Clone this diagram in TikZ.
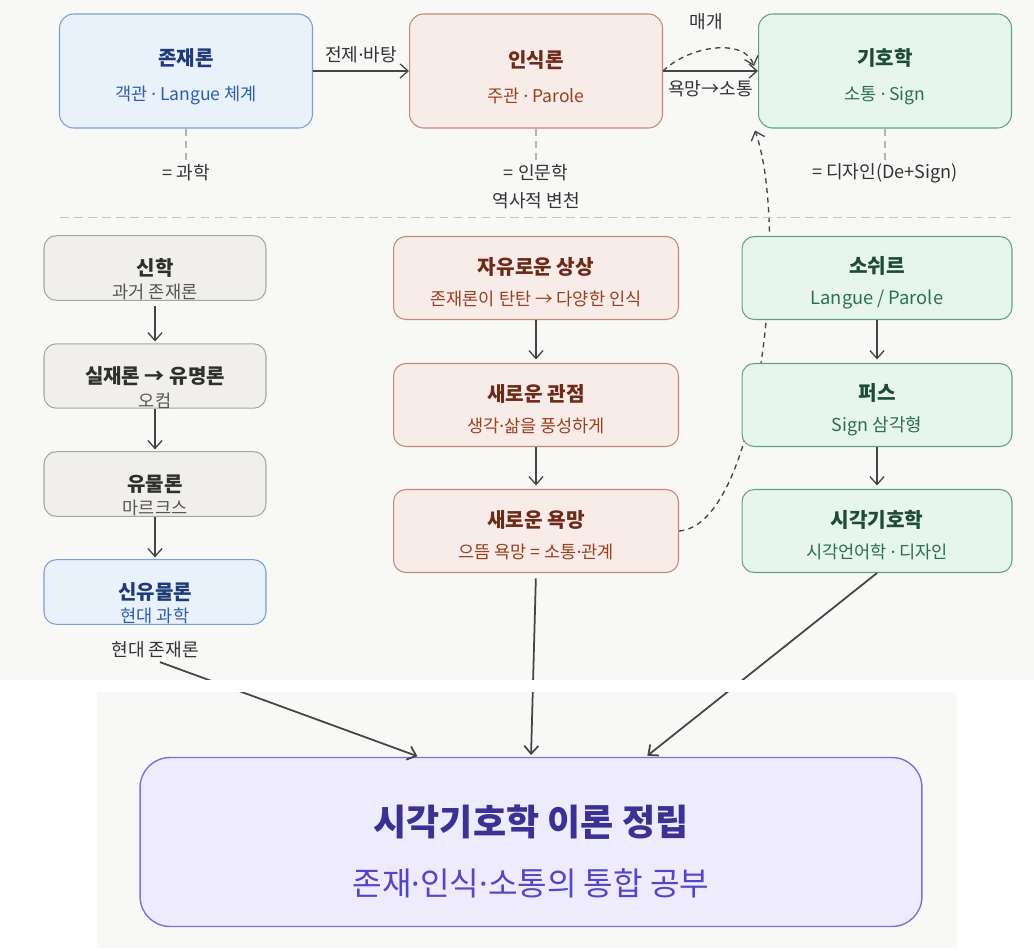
\documentclass[tikz,border=0pt]{standalone}
\usepackage{fontspec}
\setmainfont{Noto Sans CJK KR}
\newfontfamily\dotfont{Noto Sans}
\newcommand\ptdot{{\dotfont ·}}
\usetikzlibrary{arrows.meta}
\pgfdeclarelayer{panel}
\pgfdeclarelayer{behind}
\pgfsetlayers{panel,behind,main}

\begin{document}
\begin{tikzpicture}[x=0.02cm, y=-0.02cm, >={Straight Barb[length=4.5pt,width=8pt]},
  box/.style={draw, rounded corners=8pt, line width=0.6pt, inner sep=0pt, align=center},
  topbox/.style={box, minimum width=5.06cm, minimum height=2.28cm, font=\fontsize{11.4}{20}\selectfont},
  leftbox/.style={box, rounded corners=7pt, minimum width=4.44cm, minimum height=1.28cm, font=\fontsize{11.4}{13.6}\selectfont},
  midbox/.style={box, rounded corners=7pt, minimum width=5.7cm, minimum height=1.66cm, font=\fontsize{11.5}{17.6}\selectfont},
  rightbox/.style={midbox, minimum width=5.4cm},
  note/.style={font=\fontsize{10.3}{12}\selectfont, text=noteC, inner sep=1pt},
  link/.style={->, draw=lineC, line width=0.75pt},
  hint/.style={draw=hintC, dash pattern=on 4pt off 3pt, line width=0.6pt},
  dlink/.style={link, dash pattern=on 3pt off 2.5pt}]

\definecolor{panelC}{HTML}{F8F8F7}
\definecolor{blueF}{HTML}{E9F1FB}
\definecolor{blueD}{HTML}{7B9FD6}
\definecolor{blueT}{HTML}{1E3A78}
\definecolor{blueS}{HTML}{2E5EA8}
\definecolor{redF}{HTML}{F8ECE8}
\definecolor{redD}{HTML}{C3887A}
\definecolor{redT}{HTML}{6E2A18}
\definecolor{redS}{HTML}{98401F}
\definecolor{greenF}{HTML}{E6F5EE}
\definecolor{greenD}{HTML}{62A284}
\definecolor{greenT}{HTML}{1D4B36}
\definecolor{greenS}{HTML}{2B6F52}
\definecolor{grayF}{HTML}{F0EFEB}
\definecolor{grayD}{HTML}{A7A7A2}
\definecolor{grayT}{HTML}{2F2F2F}
\definecolor{grayS}{HTML}{555555}
\definecolor{purF}{HTML}{EDEBFC}
\definecolor{purD}{HTML}{7B72D2}
\definecolor{purT}{HTML}{3B3192}
\definecolor{purS}{HTML}{5446C4}
\definecolor{lineC}{HTML}{444444}
\definecolor{noteC}{HTML}{333333}
\definecolor{hintC}{HTML}{B5B5B5}

\useasboundingbox (0,0) rectangle (1034,950);

\begin{pgfonlayer}{panel}
\fill[white] (0,0) rectangle (1034,950);
\fill[panelC] (0,0) rectangle (1034,680);
\fill[panelC] (97,692) rectangle (957,948);
\end{pgfonlayer}

\node[topbox, fill=blueF, draw=blueD] (onto) at (186,71) {{\rule{0pt}{16.5pt}\bfseries\color{blueT}존재론}\\{\fontsize{10}{20}\selectfont\color{blueS}객관 \ptdot{} Langue 체계}};
\node[topbox, fill=redF, draw=redD] (epis) at (536,71) {{\rule{0pt}{16.5pt}\bfseries\color{redT}인식론}\\{\fontsize{10}{20}\selectfont\color{redS}주관 \ptdot{} Parole}};
\node[topbox, fill=greenF, draw=greenD] (sign) at (885,71) {{\rule{0pt}{16.5pt}\bfseries\color{greenT}기호학}\\{\fontsize{10}{20}\selectfont\color{greenS}소통 \ptdot{} Sign}};

\node[note] (sci) at (186,173) {= 과학};
\node[note] (hum) at (536,173) {= 인문학};
\node[note] (hist) at (536,201) {역사적 변천};
\node[note] (des) at (885,173) {= 디자인(De+Sign)};

\draw[hint] (onto.south) -- (sci.north);
\draw[hint] (epis.south) -- (hum.north);
\draw[hint] (sign.south) -- (des.north);

\draw[link] (onto.east) -- node[note, above=3pt] (base) {전제\ptdot{}바탕} (epis.west);
\draw[link] (epis.east) -- node[note, below=4pt] (want) {욕망→소통} (sign.west);
\draw[dlink] (epis.east) .. controls (690,45) and (745,38) .. ([shift={(-4,-5)}]sign.west);
\node[note] (medi) at (706,22) {매개};

\draw[draw=hintC!80, dash pattern=on 5pt off 3pt, line width=0.5pt] (60,217) -- (1012,217);

\node[leftbox, fill=grayF, draw=grayD] (theo) at (155,268) {{\rule{0pt}{22.4pt}\bfseries\color{grayT}신학}\\{\fontsize{10}{13.6}\selectfont\color{grayS}과거 존재론}};
\node[leftbox, fill=grayF, draw=grayD] (real) at (155,376) {{\rule{0pt}{22.4pt}\bfseries\color{grayT}실재론 → 유명론}\\{\fontsize{10}{13.6}\selectfont\color{grayS}오컴}};
\node[leftbox, fill=grayF, draw=grayD] (mat) at (155,484) {{\rule{0pt}{22.4pt}\bfseries\color{grayT}유물론}\\{\fontsize{10}{13.6}\selectfont\color{grayS}마르크스}};
\node[leftbox, fill=blueF, draw=blueD] (newmat) at (155,592) {{\rule{0pt}{22.4pt}\bfseries\color{blueT}신유물론}\\{\fontsize{10}{13.6}\selectfont\color{blueS}현대 과학}};
\node[note] (modern) at (155,650) {현대 존재론};

\draw[link, shorten <=3pt, shorten >=1pt] (theo) -- (real);
\draw[link, shorten >=1pt] (real) -- (mat);
\draw[link, shorten >=1pt] (mat) -- (newmat);

\node[midbox, fill=redF, draw=redD] (free) at (536,278) {{\rule{0pt}{14.2pt}\bfseries\color{redT}자유로운 상상}\\{\fontsize{10}{17.6}\selectfont\color{redS}존재론이 탄탄 → 다양한 인식}};
\node[midbox, fill=redF, draw=redD] (view) at (536,405) {{\rule{0pt}{14.2pt}\bfseries\color{redT}새로운 관점}\\{\fontsize{10}{17.6}\selectfont\color{redS}생각\ptdot{}삶을 풍성하게}};
\node[midbox, fill=redF, draw=redD] (desire) at (536,531) {{\rule{0pt}{14.2pt}\bfseries\color{redT}새로운 욕망}\\{\fontsize{10}{17.6}\selectfont\color{redS}으뜸 욕망 = 소통\ptdot{}관계}};

\draw[link, shorten >=2pt] (free) -- (view);
\draw[link, shorten >=2pt] (view) -- (desire);

\node[rightbox, fill=greenF, draw=greenD] (saus) at (877,278) {{\rule{0pt}{14.6pt}\bfseries\color{greenT}소쉬르}\\{\fontsize{10.4}{17.6}\selectfont\color{greenS}Langue / Parole}};
\node[rightbox, fill=greenF, draw=greenD] (peirce) at (877,405) {{\rule{0pt}{14.6pt}\bfseries\color{greenT}퍼스}\\{\fontsize{10.2}{17.6}\selectfont\color{greenS}Sign 삼각형}};
\node[rightbox, fill=greenF, draw=greenD] (vis) at (877,531) {{\rule{0pt}{14.2pt}\bfseries\color{greenT}시각기호학}\\{\fontsize{10}{17.6}\selectfont\color{greenS}시각언어학 \ptdot{} 디자인}};

\draw[link, shorten >=2pt] (saus) -- (peirce);
\draw[link, shorten >=2pt] (peirce) -- (vis);

\begin{pgfonlayer}{behind}
\draw[dlink] (desire.east) .. controls (760,525) and (790,230) .. ([shift={(-3,2)}]sign.south west);
\end{pgfonlayer}

\node[box, rounded corners=17pt, fill=purF, draw=purD, line width=0.8pt, minimum width=15.64cm, minimum height=3.38cm, font=\fontsize{20.5}{34}\selectfont] (final) at (531,842) {{\rule{0pt}{28pt}\bfseries\color{purT}시각기호학 이론 정립}\\{\fontsize{18.3}{34}\selectfont\color{purS}존재\ptdot{}인식\ptdot{}소통의 통합 공부}};

\draw[link, line width=1pt, shorten <=3pt, shorten >=1pt] (modern.south) -- ([xshift=-2.24cm]final.north);
\draw[link, line width=1pt, shorten <=3pt, shorten >=1pt] (desire.south) -- (final.north);
\draw[link, line width=1pt, shorten >=1pt] (vis.south) -- ([xshift=2.3cm]final.north);

\fill[white] (0,680) rectangle (1034,692);

\end{tikzpicture}
\end{document}
